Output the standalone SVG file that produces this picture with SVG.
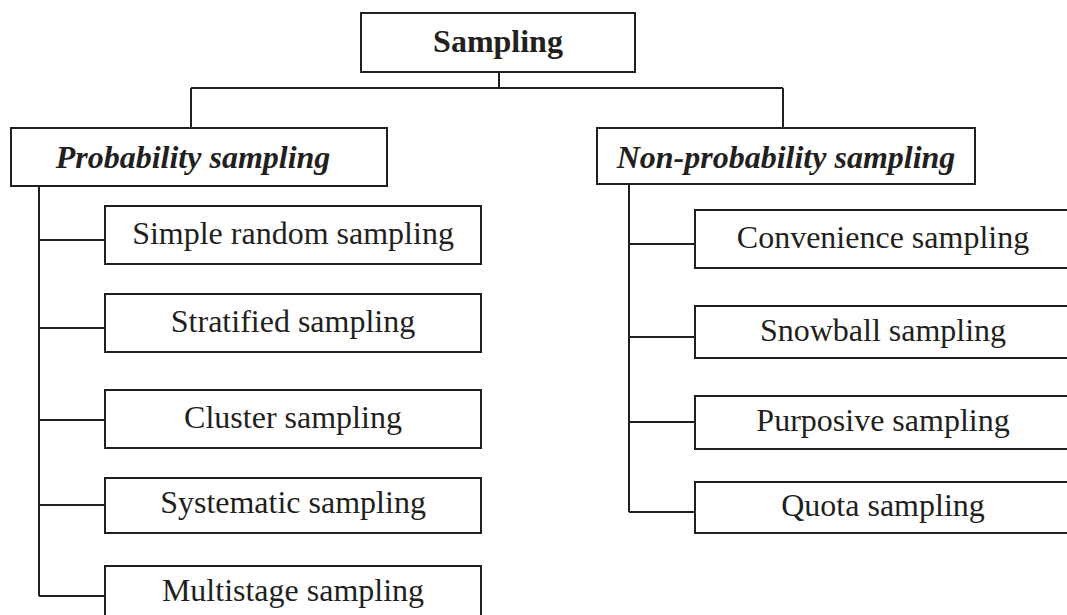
<svg xmlns="http://www.w3.org/2000/svg" width="1067" height="615" viewBox="0 0 1067 615">
  <style>
    .box { fill: #ffffff; stroke: #231f20; stroke-width: 2; }
    .link { fill: none; stroke: #231f20; stroke-width: 2; }
    .label { font-family: "Liberation Serif", "Times New Roman", serif; font-size: 32px; fill: #231f20; text-anchor: middle; }
    .root { font-weight: bold; }
    .branch { font-weight: bold; font-style: italic; }
  </style>
  <rect width="1067" height="615" fill="#ffffff"/>

  <!-- tree connectors -->
  <g id="connectors" class="link">
    <path d="M499 72 V88 M191 88 H783 M191 88 V128 M783 88 V128"/>
    <path d="M39 186 V596 M39 240 H105 M39 328 H105 M39 420 H105 M39 505 H105 M39 596 H105"/>
    <path d="M629 184 V512 M629 244 H695 M629 337 H695 M629 422 H695 M629 512 H695"/>
  </g>

  <g id="sampling">
    <rect class="box" x="361" y="13" width="274" height="59"/>
    <text class="label root" x="498" y="52">Sampling</text>
  </g>

  <g id="probability">
    <rect class="box" x="11" y="128" width="376" height="58"/>
    <text class="label branch" x="193" y="168">Probability sampling</text>
  </g>

  <g id="non-probability">
    <rect class="box" x="597" y="128" width="378" height="56"/>
    <text class="label branch" x="786" y="168">Non-probability sampling</text>
  </g>

  <g id="simple-random">
    <rect class="box" x="105" y="206" width="376" height="58"/>
    <text class="label" x="293" y="244">Simple random sampling</text>
  </g>
  <g id="stratified">
    <rect class="box" x="105" y="294" width="376" height="58"/>
    <text class="label" x="293" y="332">Stratified sampling</text>
  </g>
  <g id="cluster">
    <rect class="box" x="105" y="390" width="376" height="58"/>
    <text class="label" x="293" y="428">Cluster sampling</text>
  </g>
  <g id="systematic">
    <rect class="box" x="105" y="478" width="376" height="55"/>
    <text class="label" x="293" y="513">Systematic sampling</text>
  </g>
  <g id="multistage">
    <rect class="box" x="105" y="566" width="376" height="60"/>
    <text class="label" x="293" y="601">Multistage sampling</text>
  </g>

  <g id="convenience">
    <rect class="box" x="695" y="210" width="376" height="58"/>
    <text class="label" x="883" y="248">Convenience sampling</text>
  </g>
  <g id="snowball">
    <rect class="box" x="695" y="306" width="376" height="52"/>
    <text class="label" x="883" y="341">Snowball sampling</text>
  </g>
  <g id="purposive">
    <rect class="box" x="695" y="396" width="376" height="53"/>
    <text class="label" x="883" y="431">Purposive sampling</text>
  </g>
  <g id="quota">
    <rect class="box" x="695" y="482" width="376" height="51"/>
    <text class="label" x="883" y="516">Quota sampling</text>
  </g>
</svg>
